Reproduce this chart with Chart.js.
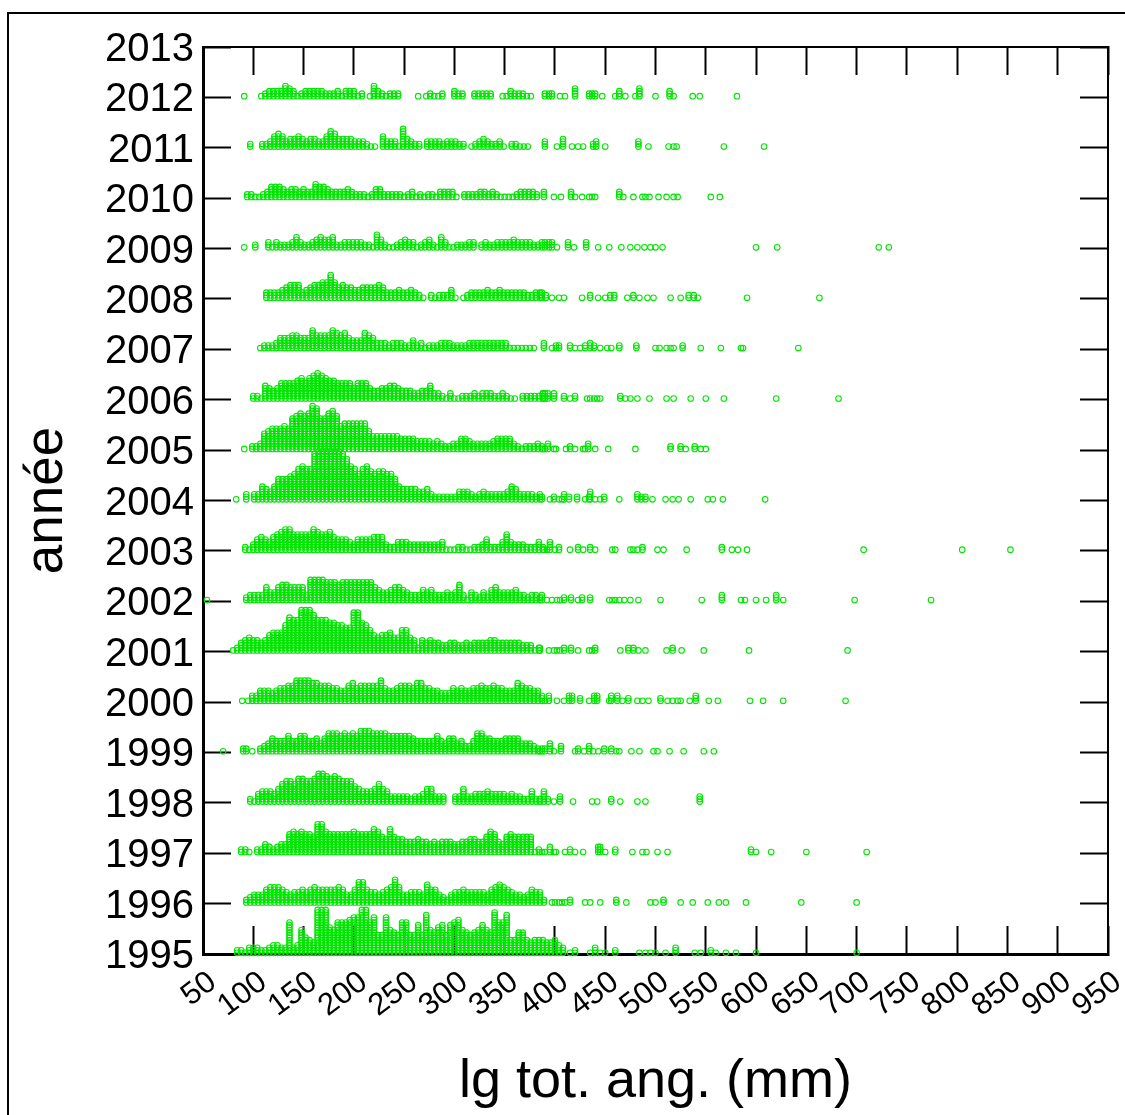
<!DOCTYPE html>
<html>
<head>
<meta charset="utf-8">
<title>lg tot. ang.</title>
<script src="https://cdn.jsdelivr.net/npm/chart.js@4"></script>
<style>
  html, body { margin: 0; padding: 0; background: #fff; overflow: hidden; }
  #frame { position: absolute; left: 7px; top: 12px; right: 0; bottom: 0; border-top: 2px solid #000; border-left: 2px solid #000; }
  #myChart { position: absolute; left: 0; top: 0; }
</style>
</head>
<body>
<div id="frame"></div>
<canvas id="myChart" width="1125" height="1115"></canvas>
<script>
const years = [1995, 1996, 1997, 1998, 1999, 2000, 2001, 2002, 2003, 2004, 2005, 2006, 2007, 2008, 2009, 2010, 2011, 2012];
const binWidth = 4; // mm
const stackStep = 0.05; // years per stacked dot
const baseShift = 0.024;

// start = first length (mm), stack = dots per bin, tail = single fish, a repeat stacks up
const start1995 = 84;
const stack1995 = [2,2,1,3,3,3,2,2,3,4,4,3,3,13,3,4,10,7,6,5,18,18,18,11,10,13,13,13,14,15,15,18,18,13,15,8,8,15,10,9,8,13,13,8,8,12,8,16,10,9,11,12,8,12,13,14,10,9,8,9,10,12,10,9,17,13,13,16,6,6,9,9,6,5,6,6,6,5,5,6,4,3];
const tail1995 = [415,420,420,435,440,440,440,445,450,460,460,484,490,495,500,510,520,520,520,539,545,555,555,560,570,580,600,700];

const start1996 = 93;
const stack1996 = [2,3,4,4,4,6,7,7,7,6,5,4,5,5,6,5,6,7,6,6,6,6,6,7,6,4,4,6,9,9,6,5,5,4,5,6,7,10,7,4,4,5,5,5,4,8,6,6,4,3,2,4,5,5,6,5,5,5,5,5,4,6,7,8,7,6,5,4,4,3,4,6,5,5,2];
const tail1996 = [397,400,404,407,410,415,415,430,435,445,461,461,471,495,500,508,508,525,537,552,563,570,590,645,700];

const start1997 = 88;
const stack1997 = [2,2,1,0,2,2,4,3,2,3,4,4,8,9,8,9,8,8,7,12,12,9,8,8,8,8,8,8,9,8,8,8,8,10,9,7,6,10,7,6,6,5,5,5,6,5,5,4,5,4,5,5,5,4,4,5,5,6,6,5,5,7,9,8,5,4,7,8,7,7,7,7,7,1,2];
const tail1997 = [387,390,395,395,395,399,401,410,415,415,420,428,443,443,443,445,445,445,450,460,460,477,487,491,502,512,595,595,600,615,650,710];

const start1998 = 97;
const stack1998 = [2,1,4,5,5,5,4,6,8,9,9,8,10,10,9,9,10,12,12,11,10,11,10,9,9,9,7,6,5,5,5,6,8,6,5,3,3,3,3,3,2,3,3,4,6,6,3,3,3,0,0,3,3,6,3,3,4,4,4,5,4,4,4,4,3,4,3,3,2,2,5,2,2];
const tail1998 = [385,385,389,389,389,389,389,393,393,399,405,405,405,418,437,442,456,456,465,482,490,544,544,544];

const start1999 = 107;
const stack1999 = [2,3,4,6,5,5,5,7,5,5,7,7,5,5,6,4,6,8,8,8,7,8,7,8,7,9,9,9,8,8,8,8,7,7,7,7,7,7,6,5,5,5,5,5,7,5,4,6,6,4,5,3,3,5,8,8,6,6,5,5,5,6,6,6,6,4,4,4,3,2,2];
const tail1999 = [70,90,90,93,93,99,385,390,390,395,395,395,395,399,406,406,406,420,423,423,429,434,434,434,438,443,449,449,456,456,461,464,476,484,498,502,514,528,548,558];

const start2000 = 99;
const stack2000 = [3,3,5,5,5,4,5,6,6,7,7,9,9,9,9,8,8,7,7,7,6,6,5,5,7,8,6,7,7,7,7,7,9,6,5,5,6,7,7,7,6,8,8,6,6,5,5,4,4,4,6,5,6,5,5,6,6,7,6,6,7,6,6,5,5,5,8,7,6,6,5,5];
const tail2000 = [89,95,387,387,387,390,394,394,394,402,409,414,414,414,417,417,417,425,425,434,439,439,439,442,442,442,454,456,456,456,462,462,462,467,473,473,482,487,493,505,505,512,517,522,525,534,540,540,540,553,562,594,607,627,689];

const start2001 = 80;
const stack2001 = [1,2,4,5,6,5,5,4,5,7,8,8,8,11,14,13,13,17,17,17,15,13,13,13,12,12,11,11,10,10,16,16,12,11,9,7,6,7,7,8,6,6,9,9,6,5,2,5,4,5,4,4,3,3,4,4,3,3,4,3,4,4,4,4,5,5,4,4,4,4,4,4,3,3,3,1,2];
const tail2001 = [385,385,394,399,402,405,409,409,416,416,423,434,437,440,440,465,473,473,478,478,483,490,511,517,517,526,548,593,691];

const start2002 = 93;
const stack2002 = [2,3,3,3,3,6,4,4,6,7,7,6,6,6,6,3,9,9,9,9,8,8,8,7,8,8,8,8,8,8,8,8,6,5,4,4,5,6,6,5,4,3,3,3,5,4,5,3,3,3,4,3,4,7,3,1,4,3,2,4,2,5,6,4,4,4,4,5,3,3,2,3,3,2];
const tail2002 = [54,387,387,387,392,397,402,405,409,409,416,416,423,427,427,435,435,454,457,460,464,469,475,483,505,546,566,566,566,585,589,600,610,620,620,620,627,698,774];

const start2003 = 92;
const stack2003 = [2,1,3,5,6,5,4,6,7,8,9,9,7,7,7,7,7,9,8,7,7,8,6,5,5,5,4,3,5,5,5,5,6,6,6,3,2,2,4,4,4,3,3,3,3,3,3,3,3,4,1,1,1,2,2,1,1,2,2,3,5,2,2,2,4,7,4,3,3,3,2,2,2,4,2];
const tail2003 = [389,392,395,395,395,395,400,404,404,415,423,423,428,435,435,440,457,460,475,478,482,487,487,502,508,531,566,566,576,582,591,707,805,853];

const start2004 = 93;
const stack2004 = [3,0,3,3,6,5,4,6,9,9,9,10,11,13,14,13,13,19,20,20,20,20,20,20,19,17,14,13,11,13,14,12,11,12,12,11,11,9,6,5,5,5,5,4,4,5,3,2,2,2,2,2,2,4,4,4,3,2,3,4,3,3,3,3,3,4,6,5,3,3,3,3,2,3];
const tail2004 = [83,387,387,395,399,399,404,407,409,409,409,414,414,422,422,430,434,434,435,435,435,435,440,445,449,449,464,482,482,482,486,486,490,490,497,510,517,523,535,552,557,567,609];

const start2005 = 99;
const stack2005 = [2,2,3,7,8,9,9,9,10,9,13,14,15,14,15,18,17,13,13,15,16,14,10,11,11,11,11,11,11,8,6,6,6,6,6,6,6,5,5,5,5,4,4,4,4,3,4,3,2,2,3,3,5,5,4,3,3,3,3,3,4,5,5,5,5,3,2,1,2,2,2,3,2];
const tail2005 = [91,388,390,393,393,393,399,401,411,415,415,420,428,430,433,433,433,440,453,480,515,515,525,525,530,539,539,545,550];

const start2006 = 100;
const stack2006 = [2,2,1,6,5,4,5,7,7,7,7,8,9,7,9,10,11,10,9,8,8,7,7,7,7,5,7,7,7,5,4,4,5,5,6,6,5,4,4,4,3,3,4,4,6,3,3,2,1,3,1,1,2,2,2,3,2,3,3,3,2,2,3,2,1,1,0,2,2,2,2,2,3];
const tail2006 = [388,388,388,390,390,390,393,393,393,399,399,399,409,409,415,420,420,432,435,439,442,445,465,465,470,475,482,494,511,518,535,550,568,620,682];

const start2007 = 107;
const stack2007 = [1,2,2,2,3,5,5,5,6,6,5,5,5,8,6,6,6,6,8,7,6,7,5,4,4,4,7,6,5,3,3,3,2,3,3,3,2,2,4,2,3,1,2,2,2,3,3,3,2,2,2,2,3,3,3,3,3,3,3,3,3,3,1,1,1,1,1,1,1];
const tail2007 = [389,389,389,397,401,401,404,404,415,415,420,425,430,430,435,435,435,439,439,445,452,456,464,464,481,481,500,504,511,515,518,527,527,545,565,585,587,642];

const start2008 = 113;
const stack2008 = [3,3,3,3,4,5,6,6,6,3,4,5,6,6,7,7,10,7,5,6,5,5,4,4,5,5,5,5,6,5,3,3,3,4,3,3,4,3,2,1,0,2,1,2,2,2,4,1,0,1,2,3,3,3,3,4,3,3,4,3,3,3,3,3,3,2,2,3,3];
const tail2008 = [387,387,387,391,391,397,404,409,427,435,435,443,450,455,455,459,459,472,478,478,484,492,498,515,525,533,533,538,538,542,591,663];

const start2009 = 115;
const stack2009 = [3,1,3,2,2,2,3,5,3,2,2,3,4,5,4,4,5,2,2,3,3,3,3,3,2,2,1,6,4,2,1,1,2,3,4,3,3,1,2,3,4,2,1,5,3,1,1,2,2,2,3,3,0,2,3,2,2,3,3,3,3,4,3,3,3,3,2,2];
const tail2009 = [91,102,102,387,387,387,390,390,390,394,394,394,397,397,397,402,413,413,413,419,431,431,431,443,454,466,475,482,489,495,500,507,600,621,722,732];

const start2010 = 94;
const stack2010 = [2,2,1,1,2,3,5,5,5,4,3,4,4,3,4,3,3,6,5,5,4,3,3,3,3,4,3,2,2,2,1,2,4,4,2,2,2,2,2,1,2,3,1,2,1,2,2,1,3,3,3,3,1,0,2,2,2,2,3,3,2,3,2,1,1,1,1,2,3,3,3,3,2];
const tail2010 = [389,389,389,399,406,416,416,416,420,427,434,437,440,464,464,464,468,478,487,490,494,503,511,518,522,555,564];

const start2011 = 97;
const stack2011 = [2,0,0,2,2,3,5,6,5,3,4,4,5,4,3,4,4,3,3,5,7,6,4,4,4,4,3,3,3,2,1,1,0,5,3,3,3,1,8,4,3,2,2,0,3,3,3,3,2,3,3,3,2,2,0,1,2,3,4,3,2,2,3,1,0,2,2,1,1,1];
const tail2011 = [390,390,390,402,408,408,408,408,417,423,428,438,438,441,441,441,450,483,483,483,493,513,518,521,568,608];

const start2012 = 108;
const stack2012 = [1,2,3,3,3,3,5,4,3,1,2,3,3,3,3,3,2,2,2,3,1,3,3,3,1,2,0,1,5,3,2,1,2,2,2,0,0,0,0,1,0,1,2,1,1,2,0,0,3,2,2,0,0,2,2,2,2,2,0,0,1,1,3,2,2,2,1,1];
const tail2012 = [91,390,390,394,394,397,397,405,410,420,420,420,420,434,434,437,437,440,440,447,460,464,464,464,470,480,484,484,484,484,500,514,514,514,518,537,544,581];

const startList = [start1995, start1996, start1997, start1998, start1999, start2000, start2001, start2002, start2003, start2004, start2005, start2006, start2007, start2008, start2009, start2010, start2011, start2012];
const stackList = [stack1995, stack1996, stack1997, stack1998, stack1999, stack2000, stack2001, stack2002, stack2003, stack2004, stack2005, stack2006, stack2007, stack2008, stack2009, stack2010, stack2011, stack2012];
const tailList = [tail1995, tail1996, tail1997, tail1998, tail1999, tail2000, tail2001, tail2002, tail2003, tail2004, tail2005, tail2006, tail2007, tail2008, tail2009, tail2010, tail2011, tail2012];

// dots
const points = [];
for (let i = 0; i < years.length; i++) {
  for (let j = 0; j < stackList[i].length; j++) {
    for (let k = 0; k < stackList[i][j]; k++) {
      points.push({ x: startList[i] + j * binWidth, y: years[i] + baseShift + k * stackStep });
    }
  }
  const seen = {};
  tailList[i].forEach(function (len) {
    seen[len] = (seen[len] || 0) + 1;
    points.push({ x: len, y: years[i] + baseShift + (seen[len] - 1) * stackStep });
  });
}

const fontName = "'Liberation Sans', Arial, sans-serif";
const insideTick = { drawOnChartArea: false, drawTicks: true, tickLength: -28, tickWidth: 2, tickColor: "#000" };

// labels may hang over the plot, no room is reserved for them
function noMargins(s) {
  s.paddingLeft = 0;
  s.paddingRight = 0;
  s.paddingTop = 0;
  s.paddingBottom = 0;
}

const ctx = document.getElementById("myChart").getContext("2d");
ctx.fontKerning = "none"; // keeps 2011 as wide as the other years

new Chart(ctx, {
  type: "scatter",
  data: {
    datasets: [
      {
        data: points,
        showLine: false,
        clip: false,
        pointStyle: "circle",
        pointRadius: 2.8,
        pointBorderWidth: 1.1,
        pointBorderColor: "#00e600",
        pointBackgroundColor: "rgba(0,0,0,0)",
      },
    ],
  },
  options: {
    responsive: false,
    animation: false,
    events: [],
    layout: { padding: { top: 47, right: 17, left: 0, bottom: 0 } },
    plugins: { legend: { display: false }, tooltip: { enabled: false } },
    scales: {
      x: {
        type: "linear",
        position: "bottom",
        min: 50,
        max: 950,
        afterFit: function (s) { s.height = 161; noMargins(s); },
        border: { display: true, color: "#000", width: 3 },
        grid: insideTick,
        ticks: {
          stepSize: 50,
          autoSkip: false,
          minRotation: 37,
          maxRotation: 37,
          padding: 38,
          labelOffset: 10,
          color: "#000",
          font: { family: fontName, size: 31 },
        },
        title: {
          display: true,
          text: "lg tot. ang. (mm)",
          color: "#000",
          font: { family: fontName, size: 54 },
          padding: { top: 0, bottom: 0 },
        },
      },
      y: {
        type: "linear",
        position: "left",
        min: 1995,
        max: 2013,
        afterFit: function (s) { s.width = 203; noMargins(s); },
        border: { display: true, color: "#000", width: 3 },
        grid: insideTick,
        ticks: {
          stepSize: 1,
          autoSkip: false,
          padding: 37,
          labelOffset: 3,
          color: "#000",
          font: { family: fontName, size: 40 },
          callback: function (v) { return String(v); },
        },
        title: {
          display: true,
          text: "année",
          color: "#000",
          font: { family: fontName, size: 53 },
          padding: { top: 16, bottom: 0 },
        },
      },
      x2: {
        type: "linear",
        axis: "x",
        position: "top",
        min: 50,
        max: 950,
        afterFit: function (s) { s.height = 0; noMargins(s); },
        border: { display: true, color: "#000", width: 2 },
        grid: insideTick,
        ticks: { display: false, stepSize: 50, autoSkip: false },
      },
      y2: {
        type: "linear",
        axis: "y",
        position: "right",
        min: 1995,
        max: 2013,
        afterFit: function (s) { s.width = 0; noMargins(s); },
        border: { display: true, color: "#000", width: 2 },
        grid: insideTick,
        ticks: { display: false, stepSize: 1, autoSkip: false },
      },
    },
  },
});
</script>
</body>
</html>
